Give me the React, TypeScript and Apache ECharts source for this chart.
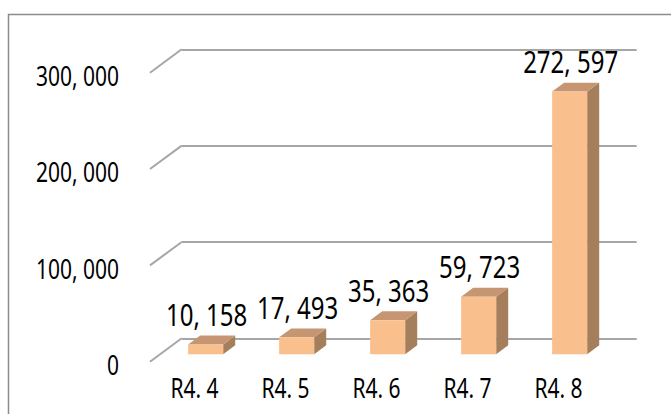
import React, { useEffect, useRef } from "react";
import * as echarts from "echarts";

const categories = ["R4.4", "R4.5", "R4.6", "R4.7", "R4.8"];
const values = [10158, 17493, 35363, 59723, 272597];
const yTicks = [0, 100000, 200000, 300000];

const FONT = "'Noto Sans', 'Open Sans', sans-serif";
const AXIS_FS = 28;
const AXIS_SX = 0.75;
const VAL_FS = 30;
const VAL_SX = 0.8;
const DX = 31.7;
const DY = -23.4;
const FRONT = 0.32;
const BACK = 0.7;

const fmtNum = (v: number) =>
  Math.round(v).toString().replace(/\B(?=(\d{3})+(?!\d))/g, ", ");
const fmtCat = (c: string) => c.replace(".", ". ");

export default function App() {
  const ref = useRef<HTMLDivElement>(null);
  useEffect(() => {
    if (!ref.current) return;
    const chart = echarts.init(ref.current, undefined, { renderer: "svg" });
    const gridW = 455;
    const gridH = 289;
    const option: any = {
      animation: false,
      backgroundColor: "#ffffff",
      textStyle: { fontFamily: FONT },
      graphic: [
        {
          type: "rect",
          shape: { x: 8.5, y: 14.5, width: 720, height: 520 },
          style: { fill: "none", stroke: "#8c8c8c", lineWidth: 1.5 },
          silent: true,
          z: -10,
        },
      ],
      grid: [
        { left: 150, top: 72.7, width: gridW, height: gridH },
        { left: 150 + DX, top: 72.7 + DY, width: gridW, height: gridH },
      ],
      xAxis: [
        {
          type: "category",
          gridIndex: 0,
          data: categories,
          axisLine: { show: false },
          axisTick: { show: false },
          axisLabel: { show: false },
        },
        {
          type: "category",
          gridIndex: 1,
          data: categories,
          show: false,
        },
      ],
      yAxis: [
        {
          type: "value",
          gridIndex: 0,
          min: 0,
          max: 300000,
          interval: 100000,
          axisLine: { show: false },
          axisTick: { show: false },
          splitLine: { show: false },
          axisLabel: { show: false },
        },
        {
          type: "value",
          gridIndex: 1,
          min: 0,
          max: 300000,
          interval: 100000,
          axisLine: { show: false },
          axisTick: { show: false },
          axisLabel: { show: false },
          splitLine: { show: true, lineStyle: { color: "#a6a6a6", width: 2 } },
        },
      ],
      series: [
        {
          // left wall diagonals + y tick labels
          type: "custom",
          xAxisIndex: 0,
          yAxisIndex: 0,
          encode: { x: 0, y: 1 },
          data: yTicks.map((v) => [0, v]),
          silent: true,
          z: 1,
          renderItem: (params: any, api: any) => {
            const v = api.value(1);
            const p = api.coord([0, v]);
            const x0 = params.coordSys.x;
            return {
              type: "group",
              children: [
                {
                  type: "line",
                  shape: { x1: x0, y1: p[1], x2: x0 + DX, y2: p[1] + DY },
                  style: { stroke: "#a6a6a6", lineWidth: 2 },
                },
                {
                  type: "text",
                  x: x0 - 31,
                  y: p[1] + 2.5,
                  scaleX: AXIS_SX,
                  style: {
                    text: fmtNum(v),
                    x: 0,
                    y: 0,
                    align: "right",
                    verticalAlign: "middle",
                    fontSize: AXIS_FS,
                    fontFamily: FONT,
                    fill: "#000",
                  },
                },
              ],
            };
          },
        },
        {
          // category labels
          type: "custom",
          xAxisIndex: 0,
          yAxisIndex: 0,
          encode: { x: 0, y: 1 },
          data: categories.map((c, i) => [i, 0]),
          silent: true,
          z: 2,
          renderItem: (params: any, api: any) => {
            const i = api.value(0);
            const p = api.coord([i, 0]);
            return {
              type: "text",
              x: p[0] - 1,
              y: p[1] + 26,
              scaleX: AXIS_SX,
              style: {
                text: fmtCat(categories[i]),
                x: 0,
                y: 0,
                align: "center",
                verticalAlign: "middle",
                fontSize: AXIS_FS,
                fontFamily: FONT,
                fill: "#000",
              },
            };
          },
        },
        {
          // 3D bars + value labels
          type: "custom",
          xAxisIndex: 0,
          yAxisIndex: 0,
          encode: { x: 0, y: 1 },
          data: values.map((v, i) => [i, v]),
          silent: true,
          z: 5,
          renderItem: (params: any, api: any) => {
            const i = api.value(0);
            const v = api.value(1);
            const base = api.coord([i, 0]);
            const top = api.coord([i, v]);
            const band = api.size([1, 0])[0];
            const w = band * 0.385;
            const x1 = base[0] - w / 2 + FRONT * DX;
            const x2 = x1 + w;
            const yb = base[1] + FRONT * DY;
            const yt = top[1] + FRONT * DY;
            const ox = (BACK - FRONT) * DX;
            const oy = (BACK - FRONT) * DY;
            return {
              type: "group",
              children: [
                {
                  type: "polygon",
                  shape: { points: [[x2, yt], [x2 + ox, yt + oy], [x2 + ox, yb + oy], [x2, yb]] },
                  style: { fill: "#a57f5c" },
                },
                {
                  type: "polygon",
                  shape: { points: [[x1, yt], [x2, yt], [x2 + ox, yt + oy], [x1 + ox, yt + oy]] },
                  style: { fill: "#c69672" },
                },
                {
                  type: "rect",
                  shape: { x: x1, y: yt, width: w, height: yb - yt },
                  style: { fill: "#f9bf8d" },
                },
                {
                  type: "text",
                  x: (x1 + x2) / 2 + 1,
                  y: yt - 30,
                  scaleX: VAL_SX,
                  style: {
                    text: fmtNum(v),
                    x: 0,
                    y: 0,
                    align: "center",
                    verticalAlign: "middle",
                    fontSize: VAL_FS,
                    fontFamily: FONT,
                    fill: "#000",
                  },
                },
              ],
            };
          },
        },
      ],
    };
    chart.setOption(option);
    return () => chart.dispose();
  }, []);
  return (
    <div
      ref={ref}
      style={{ position: "absolute", left: 0, top: 0, width: 671, height: 414 }}
    />
  );
}
